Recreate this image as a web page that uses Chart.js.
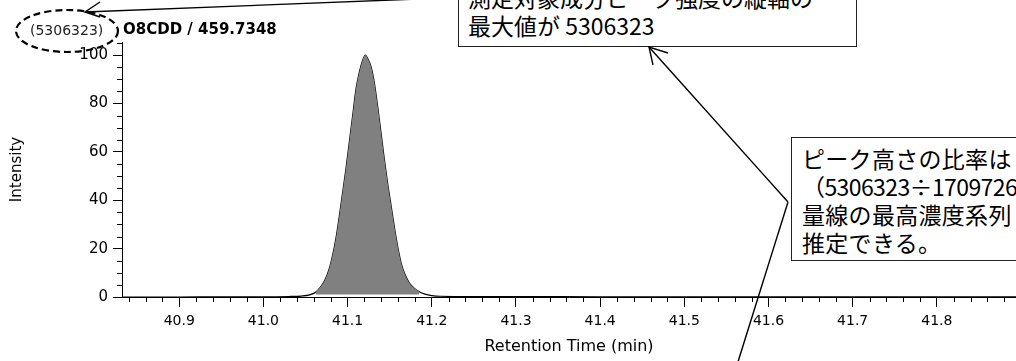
<!DOCTYPE html>
<html>
<head>
<meta charset="utf-8">
<script src="https://cdn.jsdelivr.net/npm/chart.js@4/dist/chart.umd.min.js"></script>
<style>
  body { margin: 0; background: #fff; overflow: hidden; }
  #wrap { position: relative; width: 1016px; height: 361px; overflow: hidden; }
  canvas { position: absolute; left: 0; top: 0; }
  .lbl { position: absolute; white-space: nowrap; font-family: "DejaVu Sans", sans-serif; color: #000; }
  .note {
    position: absolute; box-sizing: border-box; background: #fff;
    border: 1.5px solid #222; white-space: nowrap; overflow: hidden;
    font-family: "Noto Sans CJK JP", sans-serif; font-size: 23px; line-height: 28px; color: #000;
  }
  svg { position: absolute; left: 0; top: 0; }
</style>
</head>
<body>
<div id="wrap">
  <canvas id="chart" width="1016" height="361"></canvas>
  <div class="lbl" style="left:123px; top:20px; font-size:15px; font-weight:bold;">O8CDD / 459.7348</div>
  <div class="lbl" style="left:30px; top:22px; font-size:14px; color:#222;">(5306323)</div>
  <div class="note" style="left:458px; top:-19px; width:399px; height:66px; padding:1px 0 0 9px;">測定対象成分ピーク強度の縦軸の<br>最大値が 5306323</div>
  <div class="note" style="left:791px; top:137px; width:300px; height:124px; padding:6px 0 0 10px; letter-spacing:0.3px;">ピーク高さの比率は<br><span style="letter-spacing:-0.6px">（5306323÷1709726</span><br>量線の最高濃度系列<br>推定できる。</div>
  <svg width="1016" height="361">
    <ellipse cx="67" cy="31" rx="51" ry="21" fill="none" stroke="#000" stroke-width="2.2" stroke-dasharray="7,4"/>
    <g stroke="#000" stroke-width="1.4" fill="none">
      <line x1="85" y1="12" x2="470" y2="-3"/>
      <polyline points="100,2 85,12 100,17"/>
      <line x1="788" y1="202" x2="649" y2="47"/>
      <polyline points="668,53 649,47 653,65"/>
      <line x1="788" y1="202" x2="737" y2="365"/>
    </g>
  </svg>
</div>
<script>
// retention time (min) and relative intensity (%)
const times = [40.832, 40.90, 40.95, 41.00, 41.03, 41.045, 41.055, 41.062, 41.068, 41.073,
  41.078, 41.082, 41.086, 41.090, 41.094, 41.098, 41.102, 41.106, 41.110, 41.114,
  41.118, 41.121, 41.124, 41.128, 41.132, 41.136, 41.140, 41.144, 41.148, 41.152,
  41.156, 41.160, 41.164, 41.168, 41.173, 41.178, 41.185, 41.192, 41.200, 41.210,
  41.25, 41.30, 41.40, 41.50, 41.60, 41.70, 41.80, 41.894]
const intensity = [0.0, 0.0, 0.1, 0.1, 0.2, 0.4, 0.9, 2.0, 4.2, 7.0,
  11.5, 17, 24, 33, 43, 53, 64, 75, 86, 93,
  98, 100, 98.5, 95, 88, 78, 67, 56, 46, 37,
  28, 20, 13.5, 9.5, 6, 4, 2.2, 1.2, 0.6, 0.3,
  0.2, 0.2, 0.1, 0.1, 0.1, 0.1, 0.1, 0.1]

// integrated peak window and its baseline level
const peakStart = 41.060
const peakEnd = 41.188
const peakBaseline = 1.0

const xMin = 40.832, xMax = 41.894
const yMin = 0, yMax = 105.4
const xMajor = 0.1, xMinor = 0.02
const yMajor = 20, yMinor = 5

const trace = times.map((t, i) => ({ x: t, y: intensity[i] }))
const peak = trace.filter(p => p.x >= peakStart && p.x <= peakEnd)

// chart.js has no minor ticks, draw them from the scales
const minorTicks = {
  id: 'minorTicks',
  afterDraw(chart) {
    const { ctx } = chart
    const x = chart.scales.x, y = chart.scales.y
    ctx.save()
    ctx.strokeStyle = '#000'
    ctx.lineWidth = 1
    ctx.beginPath()
    const ratioX = Math.round(xMajor / xMinor)
    for (let k = Math.ceil(xMin / xMinor); k <= Math.floor(xMax / xMinor); k++) {
      if (k % ratioX === 0) continue
      const px = Math.round(x.getPixelForValue(k * xMinor)) + 0.5
      ctx.moveTo(px, y.bottom)
      ctx.lineTo(px, y.bottom + 5)
    }
    const ratioY = Math.round(yMajor / yMinor)
    for (let k = 1; k <= Math.floor(yMax / yMinor); k++) {
      if (k % ratioY === 0) continue
      const py = Math.round(y.getPixelForValue(k * yMinor)) + 0.5
      ctx.moveTo(x.left - 5, py)
      ctx.lineTo(x.left, py)
    }
    ctx.stroke()
    ctx.restore()
  }
}

new Chart(document.getElementById('chart'), {
  type: 'line',
  data: {
    datasets: [
      {
        data: peak,
        borderWidth: 0,
        pointRadius: 0,
        backgroundColor: '#808080',
        fill: { value: peakBaseline },
        cubicInterpolationMode: 'monotone',
      },
      {
        data: trace,
        borderColor: '#000',
        borderWidth: 1.2,
        pointRadius: 0,
        fill: false,
        cubicInterpolationMode: 'monotone',
      },
    ]
  },
  options: {
    responsive: false,
    devicePixelRatio: 1,
    animation: false,
    layout: { padding: { top: 42, right: 0, left: 0, bottom: 0 } },
    plugins: { legend: { display: false }, tooltip: { enabled: false } },
    scales: {
      x: {
        type: 'linear',
        min: xMin,
        max: xMax,
        afterFit: s => { s.height = 64 },
        border: { color: '#000', width: 1 },
        grid: { drawOnChartArea: false, drawTicks: true, tickLength: 10, tickColor: '#000' },
        ticks: {
          stepSize: xMajor,
          includeBounds: false,
          autoSkip: false,
          maxRotation: 0,
          padding: 6,
          color: '#000',
          font: { family: 'DejaVu Sans', size: 14 },
          callback: v => Number(v).toFixed(1),
        },
        title: {
          display: true,
          text: 'Retention Time (min)',
          color: '#000',
          font: { family: 'DejaVu Sans', size: 16 },
          padding: { top: 0, bottom: 5 },
        },
      },
      y: {
        min: yMin,
        max: yMax,
        afterFit: s => { s.width = 122 },
        border: { color: '#000', width: 1 },
        grid: { drawOnChartArea: false, drawTicks: true, tickLength: 9, tickColor: '#000' },
        ticks: {
          stepSize: yMajor,
          includeBounds: false,
          padding: 5,
          color: '#000',
          font: { family: 'DejaVu Sans', size: 15 },
        },
        title: {
          display: true,
          text: 'Intensity',
          color: '#000',
          font: { family: 'DejaVu Sans', size: 15 },
          padding: { top: 8, bottom: 0 },
        },
      },
    },
  },
  plugins: [minorTicks],
})
</script>
</body>
</html>
